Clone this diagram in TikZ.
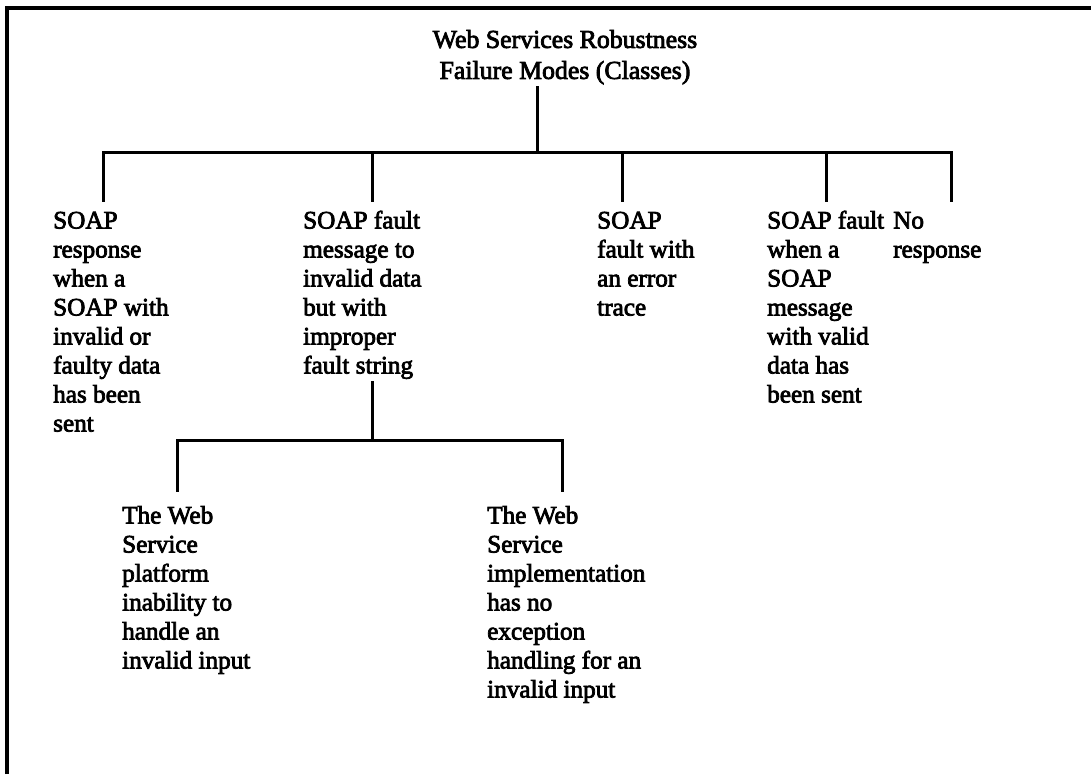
\documentclass[tikz,border=0pt]{standalone}
\usepackage{fontspec}
\setmainfont{Liberation Serif}[FakeBold=3]
\begin{document}
\begin{tikzpicture}[x=1pt,y=-1pt,
  txt/.style={anchor=north west,inner sep=0pt,align=left,font=\fontsize{25.2}{29}\selectfont},
  ttl/.style={anchor=north,inner sep=0pt,align=center,font=\fontsize{25.8}{31}\selectfont},
  con/.style={line width=3pt,line cap=rect},
  frame/.style={line width=3.5pt}]
\useasboundingbox (0,0) rectangle (1091,774);
\draw[frame] (7,774) -- (7,8) -- (1091,8);
% title
\node[ttl] (title) at (565,26) {\strut Web Services Robustness\\Failure Modes (Classes)};
% junctions
\coordinate (j0) at (537,152);
\coordinate (b1) at (103,152);
\coordinate (b2) at (372,152);
\coordinate (b3) at (622,152);
\coordinate (b4) at (826,152);
\coordinate (b5) at (951,152);
\coordinate (s0) at (372,440);
\coordinate (s1) at (177,440);
\coordinate (s2) at (562,440);
% level 1
\node[txt] (c1) at (53,208) {\strut SOAP\\response\\when a\\SOAP with\\invalid or\\faulty data\\has been\\sent};
\node[txt] (c2) at (303,208) {\strut SOAP fault\\message to\\invalid data\\but with\\improper\\fault string};
\node[txt] (c3) at (597,208) {\strut SOAP\\fault with\\an error\\trace};
\node[txt] (c4) at (767,208) {\strut SOAP fault\\when a\\SOAP\\message\\with valid\\data has\\been sent};
\node[txt] (c5) at (893,208) {\strut No\\response};
% level 2
\node[txt] (d1) at (122,503) {\strut The Web\\Service\\platform\\inability to\\handle an\\invalid input};
\node[txt] (d2) at (487,503) {\strut The Web\\Service\\implementation\\has no\\exception\\handling for an\\invalid input};
% connectors
\draw[con] ([yshift=-3pt]title.south -| j0) -- (j0);
\draw[con] (b1) -- (b5);
\foreach \b/\c in {b1/c1,b2/c2,b3/c3,b4/c4,b5/c5}
  \draw[con] (\b) -- ([yshift=8pt]\b |- \c.north);
\draw[con] ([yshift=-3pt]c2.south -| s0) -- (s0);
\draw[con] (s1) -- (s2);
\draw[con] (s1) -- ([yshift=13pt]s1 |- d1.north);
\draw[con] (s2) -- ([yshift=13pt]s2 |- d2.north);
\end{tikzpicture}
\end{document}
